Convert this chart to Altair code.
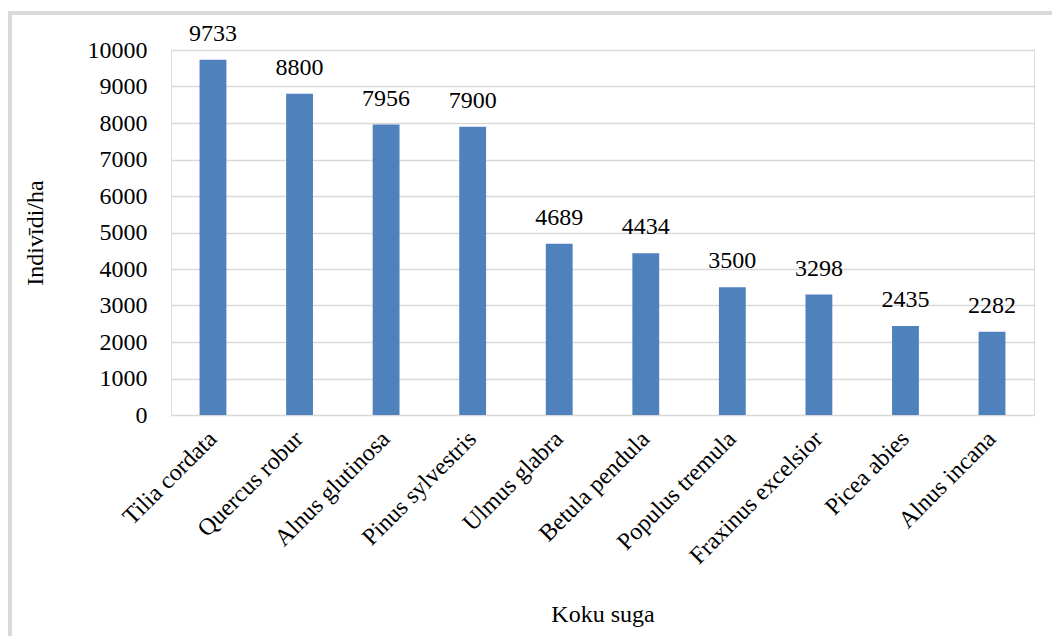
import altair as alt
import pandas as pd

species = ["Tilia cordata", "Quercus robur", "Alnus glutinosa", "Pinus sylvestris",
           "Ulmus glabra", "Betula pendula", "Populus tremula", "Fraxinus excelsior",
           "Picea abies", "Alnus incana"]
values = [9733, 8800, 7956, 7900, 4689, 4434, 3500, 3298, 2435, 2282]
y_ticks = [0, 1000, 2000, 3000, 4000, 5000, 6000, 7000, 8000, 9000, 10000]

df = pd.DataFrame({"species": species, "value": values})

FONT = "Liberation Serif"
FS = 24

x = alt.X("species:N", sort=species, title="Koku suga",
          scale=alt.Scale(paddingInner=0.69, paddingOuter=0.33),
          axis=alt.Axis(labelAngle=-45, labelAlign="right", labelBaseline="middle",
                        labelPadding=20, domain=False, ticks=False,
                        labelFontSize=FS, titleFontSize=FS, titleFontWeight="normal",
                        titlePadding=34, labelColor="black", titleColor="black",
                        labelFont=FONT, titleFont=FONT, labelOverlap=False))
y = alt.Y("value:Q", title="Indivīdi/ha",
          scale=alt.Scale(domain=[0, 10000], nice=False),
          axis=alt.Axis(values=y_ticks, format="d",
                        domain=False, ticks=False, labelOverlap=False,
                        grid=True, gridColor="#d9d9d9", gridWidth=1.5,
                        labelFontSize=FS, titleFontSize=FS, titleFontWeight="normal",
                        labelPadding=24, titlePadding=40, labelColor="black",
                        titleColor="black", labelFont=FONT, titleFont=FONT))

base = alt.Chart(df).encode(x=x, y=y)
bars = base.mark_bar(color="#4f81bd")
text = base.mark_text(baseline="alphabetic", dy=-19, fontSize=FS,
                      font=FONT, color="black").encode(text="value:Q")

border_top = alt.Chart(df).mark_rule(stroke="#d9d9d9", strokeWidth=3).encode(
    x=alt.value(-163), x2=alt.value(900), y=alt.value(-37))
border_left = alt.Chart(df).mark_rule(stroke="#d9d9d9", strokeWidth=3).encode(
    x=alt.value(-161), y=alt.value(-38), y2=alt.value(600))

chart = alt.layer(border_top, border_left, bars, text).properties(
    width=863, height=365,
    autosize=alt.AutoSizeParams(type="none"),
    padding={"left": 171, "top": 50, "right": 18, "bottom": 221},
).configure_view(stroke=None).configure(background="white")

chart.save("out.html", embed_options={"renderer": "svg", "actions": False})
